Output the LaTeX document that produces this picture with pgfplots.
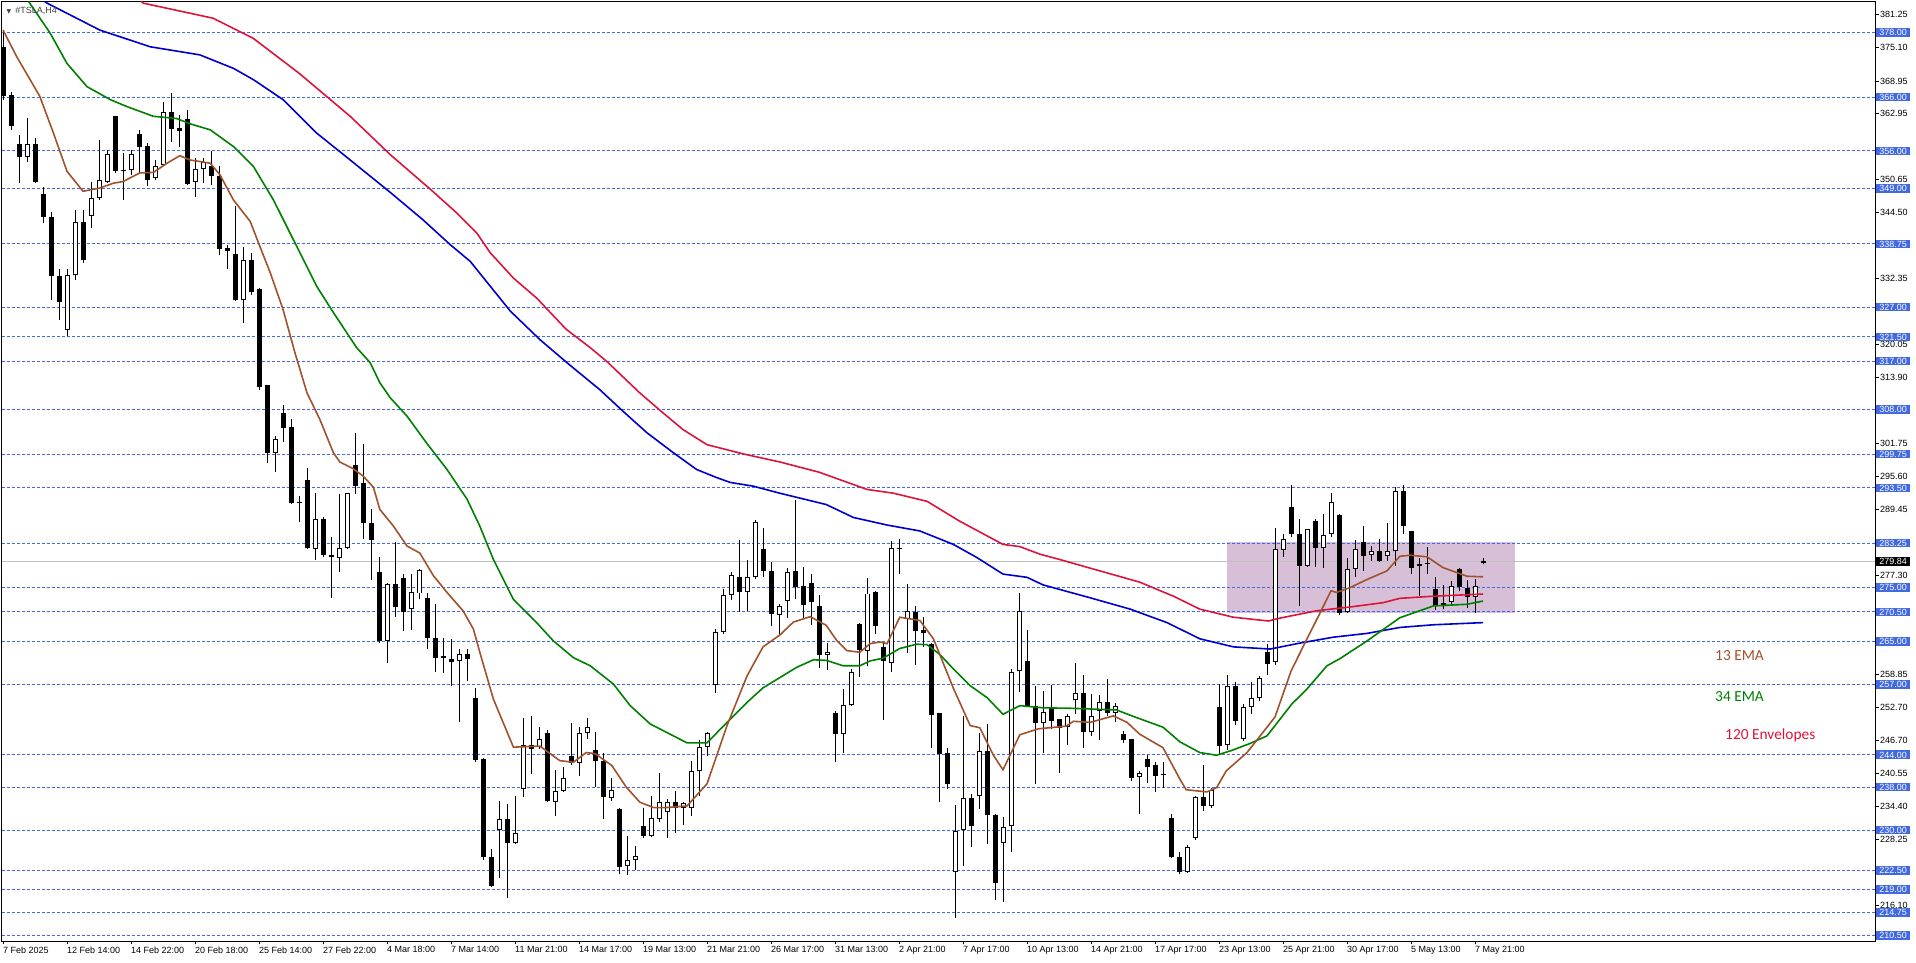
\documentclass[border=0pt]{standalone}
\usepackage{pgfplots}
\usepackage{pgfplotstable}
\usepackage{fontspec}
\setmainfont{Liberation Sans}
\newfontfamily\carlito{Carlito}
\newfontfamily\dejavu{DejaVu Sans}
\pgfplotsset{compat=1.18}
\definecolor{royal}{RGB}{65,105,225}
\definecolor{ema13}{RGB}{160,82,45}
\definecolor{ema34}{RGB}{0,128,0}
\definecolor{envup}{RGB}{220,20,60}
\definecolor{envdn}{RGB}{0,0,205}
\definecolor{boxpurple}{RGB}{216,191,216}
\definecolor{pricegray}{RGB}{192,192,192}
\pgfplotstableread{
i o h l c
0 375.3 378.5 365.5 366.1
1 366.4 367.0 359.8 360.6
2 357.3 359.0 350.0 354.8
3 354.8 362.1 354.0 357.3
4 357.3 358.4 350.0 350.3
5 348.0 349.3 342.7 343.7
6 343.8 344.7 328.4 332.7
7 332.7 334.1 324.6 327.9
8 322.7 334.1 321.6 333.0
9 332.9 345.1 332.0 342.8
10 342.8 345.1 335.2 335.7
11 344.0 350.3 341.7 347.2
12 347.2 358.1 346.9 350.6
13 350.3 356.2 350.0 355.4
14 362.4 362.5 351.9 352.3
15 352.5 355.6 346.9 352.3
16 352.4 356.2 351.6 355.4
17 359.1 359.9 351.9 356.8
18 356.9 357.4 349.4 350.6
19 350.9 354.3 350.6 353.2
20 353.4 365.0 353.1 363.2
21 363.2 366.7 357.7 360.0
22 360.3 362.7 356.8 359.6
23 361.9 363.5 349.7 349.9
24 350.2 354.7 347.4 352.6
25 352.6 354.7 350.1 354.0
26 353.1 355.9 349.7 351.4
27 351.4 353.1 336.7 337.8
28 337.9 338.6 334.0 337.4
29 336.9 345.8 328.1 328.4
30 328.4 338.2 324.0 335.8
31 335.8 337.0 329.3 329.8
32 330.4 330.6 311.6 312.2
33 312.5 312.6 298.1 300.0
34 300.0 303.2 296.4 302.6
35 307.3 308.8 302.0 304.6
36 304.8 306.3 290.5 290.7
37 290.8 292.0 287.2 290.6
38 294.9 297.2 282.1 282.3
39 282.2 292.6 280.2 287.8
40 287.8 288.1 280.6 281.0
41 281.1 284.3 273.0 280.6
42 280.5 292.3 277.8 282.4
43 282.3 292.6 282.1 292.5
44 297.8 303.6 292.4 293.8
45 294.4 301.7 284.0 287.0
46 286.9 289.5 276.4 283.8
47 277.9 280.7 264.8 265.0
48 265.1 275.9 261.1 275.6
49 275.6 283.5 269.6 271.4
50 276.7 277.5 267.0 270.5
51 271.1 277.5 267.1 274.1
52 273.9 278.5 272.8 278.2
53 273.0 273.9 263.6 265.7
54 265.7 271.9 259.4 262.0
55 262.0 265.7 259.2 262.3
56 261.8 265.4 256.8 261.2
57 261.3 263.6 250.0 262.6
58 262.6 263.6 257.7 261.8
59 254.5 256.3 242.6 243.1
60 243.2 243.4 224.4 225.0
61 225.0 226.6 219.4 219.7
62 230.1 235.5 221.1 232.1
63 232.1 234.9 217.4 227.6
64 227.6 236.3 227.4 229.4
65 237.6 250.9 236.1 245.8
66 245.8 251.1 240.4 245.0
67 245.5 249.1 245.0 247.0
68 248.0 248.6 235.2 235.4
69 235.2 241.2 232.7 237.2
70 237.2 241.8 237.0 239.6
71 243.7 249.8 242.1 242.5
72 242.5 249.2 240.0 248.0
73 248.0 250.8 246.9 249.2
74 244.9 248.3 238.0 242.9
75 242.8 244.3 232.0 236.1
76 235.9 239.6 235.5 237.5
77 233.9 234.1 221.9 223.1
78 223.3 228.9 221.7 224.4
79 224.5 227.0 222.7 225.2
80 230.7 234.1 228.5 229.0
81 229.0 236.3 228.7 232.2
82 232.0 240.6 231.5 235.2
83 233.3 235.7 228.5 235.2
84 235.2 237.2 229.4 234.1
85 234.2 235.2 231.0 235.0
86 234.1 242.9 232.7 240.9
87 240.9 246.8 236.4 245.5
88 245.5 248.3 243.8 248.1
89 256.9 267.3 255.5 266.7
90 266.8 274.8 266.4 273.6
91 273.6 277.8 272.7 277.3
92 277.0 283.8 270.5 274.1
93 274.1 280.1 270.7 277.0
94 277.0 287.5 276.5 287.2
95 282.1 286.0 276.9 278.0
96 278.0 279.8 267.9 270.1
97 269.9 271.9 266.0 271.6
98 272.5 278.6 269.4 277.8
99 278.0 291.2 272.8 275.1
100 275.2 278.9 269.4 271.8
101 275.9 277.5 268.0 272.4
102 271.5 273.6 260.0 262.5
103 262.5 264.7 259.7 263.0
104 251.7 252.2 242.7 247.8
105 247.8 256.1 244.3 253.2
106 253.2 259.9 253.1 259.4
107 268.2 268.5 258.5 263.4
108 263.3 276.7 260.4 273.9
109 274.1 274.4 266.3 267.8
110 263.9 264.8 250.5 261.3
111 261.1 283.6 259.4 282.4
112 282.4 284.1 277.5 282.2
113 269.1 275.6 262.8 270.7
114 270.4 271.5 260.7 267.0
115 267.1 269.6 263.9 266.5
116 264.5 264.7 245.2 251.4
117 251.7 251.8 235.3 244.1
118 244.3 245.3 237.6 238.6
119 222.2 234.7 213.7 229.8
120 230.0 251.1 223.4 235.9
121 235.9 236.7 226.9 230.8
122 236.3 248.0 234.0 244.7
123 244.7 249.7 227.4 232.9
124 232.9 233.0 217.1 220.2
125 227.6 232.4 216.6 230.6
126 230.7 259.9 225.9 259.4
127 259.6 273.9 255.7 270.6
128 261.3 267.1 253.0 253.1
129 253.1 256.8 238.6 249.8
130 249.8 255.8 244.4 252.0
131 252.7 256.9 248.7 250.3
132 250.6 250.7 240.7 249.0
133 249.1 251.5 245.8 251.1
134 254.1 261.0 251.5 255.5
135 255.5 258.8 245.2 248.3
136 248.3 255.2 247.5 251.2
137 252.2 255.0 246.8 253.8
138 253.8 258.0 251.1 251.8
139 251.8 253.5 250.1 253.1
140 247.9 248.4 246.2 246.8
141 246.9 247.0 239.2 239.7
142 239.8 241.0 233.0 240.6
143 243.2 244.0 238.7 241.8
144 242.1 242.6 237.0 240.1
145 240.4 242.6 237.9 240.2
146 232.2 233.0 224.9 225.0
147 225.0 225.9 221.9 222.2
148 222.2 227.3 222.1 226.8
149 228.5 236.4 228.1 236.1
150 236.1 242.1 233.6 234.4
151 234.4 237.8 234.2 237.5
152 252.8 257.1 243.9 245.7
153 245.8 258.8 244.9 256.7
154 256.7 257.4 249.5 250.3
155 247.0 253.4 246.6 252.9
156 252.9 257.4 251.5 254.6
157 254.6 258.6 254.0 258.3
158 263.1 264.5 258.8 260.8
159 261.2 286.1 260.6 282.2
160 282.0 284.9 280.7 284.1
161 290.0 294.1 284.3 284.9
162 285.0 287.8 271.6 279.0
163 279.0 285.9 278.9 285.8
164 287.3 287.7 278.9 282.4
165 282.4 288.6 278.6 284.8
166 284.9 292.5 284.3 290.9
167 288.4 288.6 269.9 270.2
168 270.5 280.5 270.2 278.4
169 278.5 283.8 277.0 282.2
170 283.5 286.4 278.1 280.9
171 281.0 282.8 279.9 281.7
172 281.7 284.0 279.8 279.9
173 280.9 287.0 279.9 281.7
174 281.7 293.7 279.0 292.9
175 292.9 294.0 284.9 286.4
176 285.4 285.5 277.5 278.7
177 279.0 280.4 273.5 279.4
178 279.6 282.6 277.5 279.4
179 274.7 276.9 270.9 271.8
180 271.8 275.4 271.1 272.2
181 272.3 276.2 271.9 275.2
182 278.4 278.7 274.3 275.1
183 274.9 276.4 271.2 273.3
184 273.3 276.5 270.2 275.3
185 279.6 280.4 279.3 279.84
}\candles
\begin{document}
\begin{tikzpicture}
\begin{axis}[
  set layers,
  at={(1.5pt,22pt)}, anchor=south west,
  scale only axis, width=1873.5pt, height=939.5pt,
  xmin=-0.19, xmax=234, ymin=209.45, ymax=383.7,
  clip mode=individual,
  axis line style={black, line width=0.8pt},
  tick align=outside,
  major tick length=3.5pt,
  tick style={black, line width=0.8pt},
  xtick pos=bottom, ytick pos=right, yticklabel pos=right,
  xtick={0,8,...,184},
  xticklabels={7 Feb 2025,12 Feb 14:00,14 Feb 22:00,20 Feb 18:00,25 Feb 14:00,27 Feb 22:00,4 Mar 18:00,7 Mar 14:00,11 Mar 21:00,14 Mar 17:00,19 Mar 13:00,21 Mar 21:00,26 Mar 17:00,31 Mar 13:00,2 Apr 21:00,7 Apr 17:00,10 Apr 13:00,14 Apr 21:00,17 Apr 17:00,23 Apr 13:00,25 Apr 21:00,30 Apr 17:00,5 May 13:00,7 May 21:00},
  xticklabel style={font=\fontsize{9}{10}\selectfont, anchor=north west, inner sep=0pt, yshift=-2pt},
  ytick={381.25,375.10,368.95,362.95,350.65,344.50,332.35,320.05,313.90,301.75,295.60,289.45,277.30,258.85,252.70,246.70,240.55,234.40,228.25,216.10},
  yticklabels={381.25,375.10,368.95,362.95,350.65,344.50,332.35,320.05,313.90,301.75,295.60,289.45,277.30,258.85,252.70,246.70,240.55,234.40,228.25,216.10},
  yticklabel style={font=\fontsize{9}{10}\selectfont, anchor=west, inner sep=0pt, xshift=1.5pt},
  extra y ticks={378,366,356,349,338.75,327,321.5,317,308,299.75,293.5,283.25,275,270.5,265,257,244,238,230,222.5,219,214.75,210.5},
  extra y tick labels={},
  extra y tick style={grid=major, major tick length=0pt, major grid style={royal, line width=0.8pt, dash pattern=on 3pt off 2pt}},
  filter discard warning=false,
  unbounded coords=discard,
]
% range box
\begin{pgfonlayer}{axis background}
\fill[boxpurple] (axis cs:152.96,270.2) rectangle (axis cs:189,283.4);
\end{pgfonlayer}
% current price line
\addplot[pricegray, line width=0.8pt] coordinates {(-0.19,279.84) (234,279.84)};
% wicks
\addplot[black, line width=1pt, quiver={u=0, v=\thisrow{h}-\thisrow{l}}] table[x=i, y=l] {\candles};
% bodies
\addplot[black, line width=5pt, quiver={u=0, v=\thisrow{c}-\thisrow{o}}] table[x=i, y=o] {\candles};
\addplot[white, line width=3pt, quiver={u=0, v=\thisrow{c}-\thisrow{o}-0.37}] table[x=i, y expr={\thisrow{c}-\thisrow{o}>0.4 ? \thisrow{o}+0.185 : nan}] {\candles};
% 120 envelopes upper
\addplot[envup, line width=1.6pt] coordinates {(17.3,383.7) (17.5,383.4) (26.25,380.6) (31.25,376.9) (37,370.4) (43.4,362.4) (48.4,355.3) (53.4,348.9) (56.7,344.5) (59.2,340.8) (60.9,337.1) (63.8,332.4) (66.7,328.7) (70.4,322.9) (73.4,319.5) (75.5,316.9) (79.6,311.1) (82.5,307.4) (85,304.3) (88,301.5) (92.5,299.8) (97.1,298.3) (102,296.4) (108,293.2) (111.3,292.5) (115.5,291.0) (119.6,287.3) (125,283.0) (127.1,282.6) (129.6,281.2) (132.1,280.2) (135.9,278.6) (142.1,276.0) (146.3,273.4) (149.6,271.0) (153.8,269.5) (158.2,268.8) (159.5,269.3) (164.2,270.7) (168.4,271.4) (172.5,272.2) (174.6,273.0) (178.8,273.4) (185,273.8)};
% 120 envelopes lower
\addplot[envdn, line width=1.6pt] coordinates {(5.2,383.7) (5.5,383.4) (12.1,378.4) (18.4,375.3) (24.6,373.8) (28.8,371.3) (31.3,369.2) (35,365.5) (39.2,359.3) (43.4,354.3) (48.4,348.3) (52.5,343.2) (55.9,338.6) (58.4,335.5) (60.9,330.9) (63.4,326.3) (67.1,321.0) (70.5,316.7) (74.6,311.7) (77.5,307.7) (80.5,303.7) (83.8,300.0) (86.7,296.9) (89.2,295.4) (90.9,294.5) (93.8,293.8) (97.1,292.5) (102.9,290.4) (106.3,288.0) (110.5,286.6) (114.6,285.5) (118.8,283.0) (121.7,280.6) (125,277.5) (128,276.9) (130,275.5) (135.9,273.1) (140.9,271.0) (145.5,268.5) (149.6,265.5) (153.8,264.0) (158.4,263.6) (162.1,264.7) (166.3,265.8) (170.5,266.5) (174.6,267.6) (178.8,268.1) (185,268.5)};
% 34 EMA
\addplot[ema34, line width=1.6pt] coordinates {(3.2,383.7) (5.9,377.8) (8,372.2) (10.5,367.9) (13.4,365.5) (15.5,364.2) (18.8,362.4) (21.7,362.0) (23.4,361.0) (25.9,359.9) (28.8,356.8) (31.3,353.1) (33.8,346.9) (36.3,339.5) (39.2,330.9) (41.3,326.0) (44.2,319.5) (45.9,316.7) (47.1,313.0) (48.4,310.2) (50.5,306.8) (52.9,301.9) (55.5,296.9) (58,291.4) (59.6,286.4) (61.3,280.2) (63.8,272.8) (66.7,268.5) (68.8,265.1) (71.3,262.0) (73.4,260.5) (76.3,257.1) (78.4,253.1) (80.9,249.7) (83.4,247.8) (85.5,246.2) (88,246.2) (90.5,250.0) (93,253.7) (95,256.4) (97.1,258.3) (99.2,260.2) (101.3,261.6) (102.9,261.5) (105,260.5) (107.1,260.5) (108.4,261.4) (110,261.9) (112.1,263.7) (114.2,264.5) (115.5,264.4) (117.1,262.6) (118.8,259.9) (120.9,256.8) (123,254.6) (125,251.5) (127.1,253.1) (130,252.7) (133.8,252.6) (139.2,252.3) (141.3,251.1) (145,249.1) (147.1,246.4) (149.6,244.4) (151.7,243.9) (153.6,244.8) (155.9,246.1) (158,247.5) (161.1,253.4) (163,256.2) (165.5,260.5) (167.1,261.8) (170.5,265.1) (174.6,269.4) (178.8,271.6) (183,271.9) (185,272.5)};
% 13 EMA
\addplot[ema13, line width=1.6pt] coordinates {(0,378.4) (1.7,373.5) (4.6,366.1) (6.3,359.3) (8,352.2) (10,348.5) (12.1,349.1) (13.8,350.0) (15,350.3) (17.1,351.9) (18.8,352.0) (20.5,353.7) (22.1,355.1) (23.4,354.3) (25.9,353.7) (27.1,351.6) (28.8,346.9) (30.9,342.9) (32.1,338.3) (33.4,333.4) (35,326.6) (36.5,318.5) (38,311.1) (39.6,306.2) (41.3,300.0) (42.1,298.3) (43.7,297.1) (45,295.7) (46.3,293.6) (47.1,289.5) (48.8,286.4) (50.5,282.7) (52.1,281.4) (53.8,277.2) (55.5,274.1) (57.5,270.7) (58.8,267.3) (59.6,263.0) (61.3,254.3) (63.8,245.4) (67.1,245.6) (69.6,242.9) (71.3,242.6) (72.9,244.4) (74,244.2) (76.1,242.0) (77.9,238.0) (79.6,235.2) (81.3,234.2) (82.9,234.2) (85.5,234.5) (88,238.6) (90.5,249.4) (93,258.6) (95,264.0) (97.1,266.2) (98.8,268.6) (100.9,269.6) (102.9,268.0) (104.2,265.2) (105.5,263.3) (107.1,263.0) (108.4,264.6) (109.6,264.9) (110.5,264.6) (112.1,269.5) (114.6,268.9) (116.3,265.5) (118.8,256.3) (120.9,249.4) (122.1,249.0) (123.8,243.9) (125,241.2) (127.1,247.7) (129.4,248.8) (132.9,249.3) (133.8,250.2) (135.9,250.0) (138.8,251.2) (140.5,250.0) (142.1,247.8) (145,245.3) (147.1,239.5) (147.9,237.5) (150.5,237.1) (151.7,237.9) (152.9,241.0) (155.5,244.4) (158,249.1) (159,251.0) (161,259.5) (163,265.5) (164.6,270.2) (166,274.4) (166.7,274.1) (168.4,275.0) (170.5,276.5) (173,278.1) (174.6,280.8) (175.9,281.0) (178,280.7) (180,278.7) (183,277.1) (185,277.0)};
% level labels
\tikzset{lvl/.style={anchor=west, fill=royal, text=white, inner xsep=3pt, inner ysep=1pt, text height=6.6pt, text depth=0pt, font=\fontsize{9}{10}\selectfont, xshift=1.2pt}}
\node[lvl] at (axis cs:234,378) {378.00};
\node[lvl] at (axis cs:234,366) {366.00};
\node[lvl] at (axis cs:234,356) {356.00};
\node[lvl] at (axis cs:234,349) {349.00};
\node[lvl] at (axis cs:234,338.75) {338.75};
\node[lvl] at (axis cs:234,327) {327.00};
\node[lvl] at (axis cs:234,321.5) {321.50};
\node[lvl] at (axis cs:234,317) {317.00};
\node[lvl] at (axis cs:234,308) {308.00};
\node[lvl] at (axis cs:234,299.75) {299.75};
\node[lvl] at (axis cs:234,293.5) {293.50};
\node[lvl] at (axis cs:234,283.25) {283.25};
\node[lvl] at (axis cs:234,275) {275.00};
\node[lvl] at (axis cs:234,270.5) {270.50};
\node[lvl] at (axis cs:234,265) {265.00};
\node[lvl] at (axis cs:234,257) {257.00};
\node[lvl] at (axis cs:234,244) {244.00};
\node[lvl] at (axis cs:234,238) {238.00};
\node[lvl] at (axis cs:234,230) {230.00};
\node[lvl] at (axis cs:234,222.5) {222.50};
\node[lvl] at (axis cs:234,219) {219.00};
\node[lvl] at (axis cs:234,214.75) {214.75};
\node[lvl] at (axis cs:234,210.5) {210.50};
\node[lvl, fill=black] at (axis cs:234,279.84) {279.84};
% annotations
\node[anchor=west, inner sep=0pt, text=ema13, font=\carlito\fontsize{15.4}{16}\selectfont] at (axis cs:214,262.45) {13 EMA};
\node[anchor=west, inner sep=0pt, text=ema34, font=\carlito\fontsize{15.4}{16}\selectfont] at (axis cs:214,254.7) {34 EMA};
\node[anchor=west, inner sep=0pt, text=envup, font=\carlito\fontsize{15.4}{16}\selectfont] at (axis cs:215.25,247.5) {120 Envelopes};
\node[anchor=west, inner sep=0pt, text=black!75, font=\fontsize{9}{10}\selectfont] at (rel axis cs:0,1) [xshift=5pt, yshift=-9.5pt] {{\dejavu\fontsize{6}{7}\selectfont ▼}\hspace{4pt}\#TSLA,H4};
\end{axis}
\pgfresetboundingbox
\useasboundingbox (0,0) rectangle (1916pt,963pt);
\end{tikzpicture}
\end{document}
